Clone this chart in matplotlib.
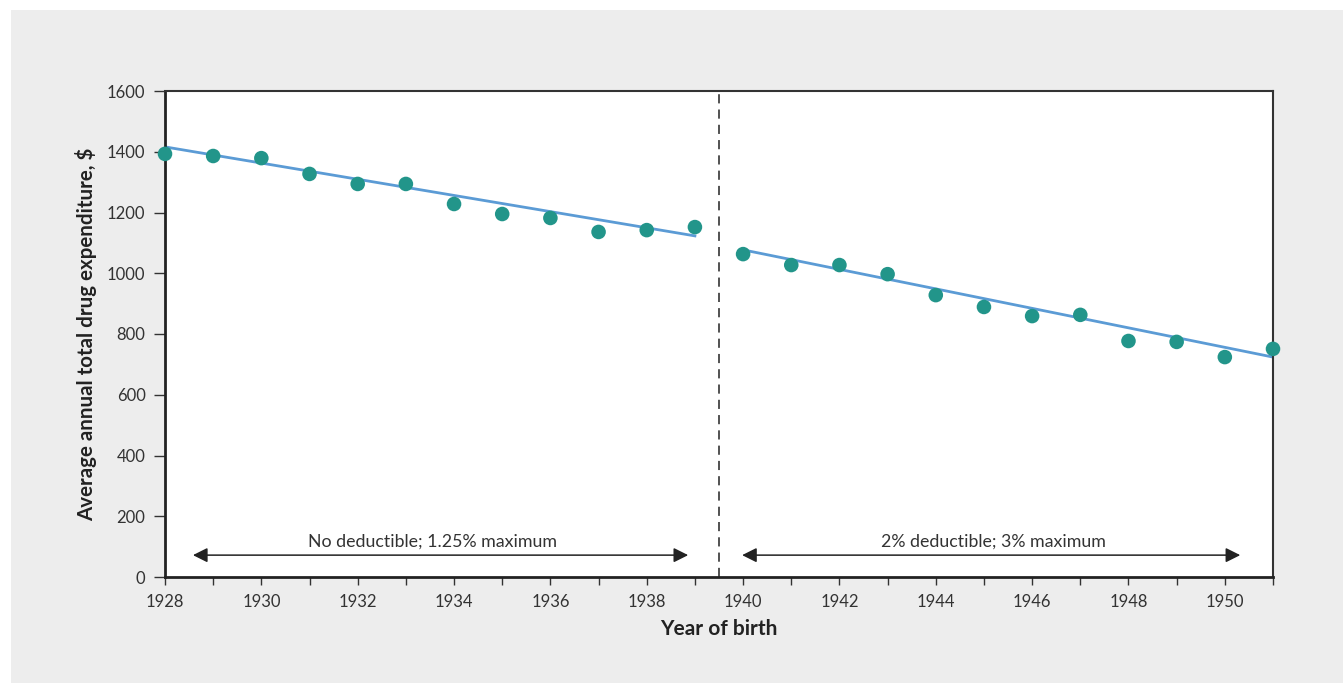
import numpy as np
import matplotlib
matplotlib.use("Agg")
import matplotlib.pyplot as plt
from matplotlib.patches import Rectangle

# data
years = np.arange(1928, 1952)
spend = [1393, 1386, 1379, 1327, 1294, 1294, 1228, 1195, 1182, 1136, 1142, 1152,
         1063, 1027, 1027, 997, 928, 889, 859, 863, 777, 774, 724, 751]

# trend lines (endpoints)
fit1_x = [1928, 1939]
fit1_y = [1416, 1123]
fit2_x = [1940, 1951]
fit2_y = [1077, 724]

cutoff = 1939.5
labels = ["No deductible; 1.25% maximum", "2% deductible; 3% maximum"]
arrow_spans = [(1928.58, 1938.86), (1939.98, 1950.32)]
label_x = [1933.56, 1945.19]

plt.rcParams['font.family'] = ['Lato', 'DejaVu Sans']

fig = plt.figure(figsize=(13.43, 6.83), dpi=100)
fig.patch.set_facecolor("white")
# grey panel behind the chart
fig.patches.append(Rectangle((11/1343, 0), 1 - 11/1343, 1 - 10/683,
                             transform=fig.transFigure, facecolor="#ededed",
                             edgecolor="none", zorder=-1))

ax = fig.add_axes([165/1343, 106/683, 1108/1343, 486/683])
ax.set_facecolor("white")

teal = "#22958a"
blue = "#5b9bd5"

ax.plot(fit1_x, fit1_y, color=blue, lw=2, zorder=2)
ax.plot(fit2_x, fit2_y, color=blue, lw=2, zorder=2)
ax.scatter(years, spend, s=110, color=teal, zorder=3, clip_on=False, edgecolors="none")

ax.axvline(cutoff, color="#222222", lw=1.1, ls=(0, (6, 4)), zorder=1)

for (x0, x1), lab, lx in zip(arrow_spans, labels, label_x):
    ax.annotate("", xy=(x1, 72), xytext=(x0, 72),
                arrowprops=dict(arrowstyle="<|-|>", color="#222222", lw=1.1,
                                mutation_scale=22, shrinkA=0, shrinkB=0))
    ax.text(lx, 90, lab, ha="center", va="bottom", fontsize=12.8, color="#333333")

ax.set_xlim(1928, 1951)
ax.set_ylim(0, 1600)
ax.set_xticks(np.arange(1928, 1952, 1))
ax.set_xticklabels([str(y) if y % 2 == 0 else "" for y in range(1928, 1952)])
ax.set_yticks(np.arange(0, 1601, 200))

for s in ["left", "bottom"]:
    ax.spines[s].set_linewidth(2)
    ax.spines[s].set_color("#222222")
for s in ["top", "right"]:
    ax.spines[s].set_linewidth(1.5)
    ax.spines[s].set_color("#333333")

ax.tick_params(axis="x", direction="out", length=6, width=1, color="#333333",
               labelsize=12, labelcolor="#333333", pad=6)
ax.tick_params(axis="y", direction="out", length=8, width=1, color="#333333",
               labelsize=12, labelcolor="#333333", pad=6)

ax.set_xlabel("Year of birth", fontsize=15, fontweight="bold", color="#222222", labelpad=7)
ax.set_ylabel("Average annual total drug expenditure, $", fontsize=14.8,
              fontweight="bold", color="#222222", labelpad=7)

fig.savefig("out.png", dpi=100)
